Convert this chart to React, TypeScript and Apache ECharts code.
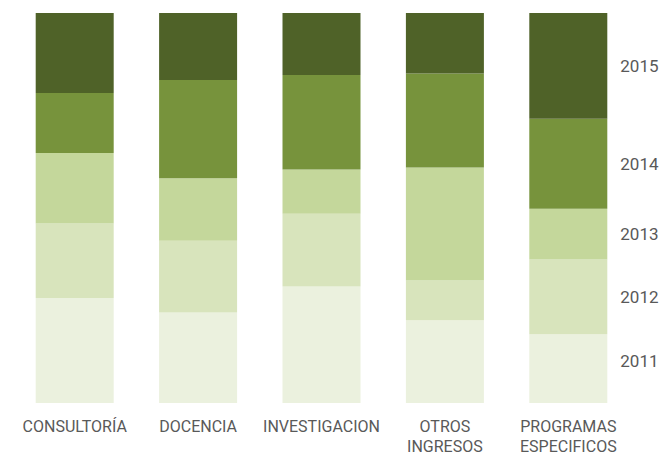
import React, { useEffect, useRef } from "react";
import * as echarts from "echarts";

const categories = ["CONSULTORÍA", "DOCENCIA", "INVESTIGACION", "OTROS INGRESOS", "PROGRAMAS ESPECIFICOS"];
const years = ["2011", "2012", "2013", "2014", "2015"];
const v2011 = [26.9, 23.2, 29.9, 21.2, 17.6];
const v2012 = [19.1, 18.4, 18.6, 10.2, 19.2];
const v2013 = [18.1, 16.0, 11.4, 29.0, 13.0];
const v2014 = [15.4, 25.2, 24.2, 24.1, 23.1];
const v2015 = [20.5, 17.2, 15.9, 15.5, 27.1];
const colors = ["#EBF1DE", "#D8E4BC", "#C4D79B", "#77933C", "#4F6228"];
const labelOffsets = [-8, 0, 0, 0, 0];

export default function App() {
  const ref = useRef<HTMLDivElement>(null);
  useEffect(() => {
    if (!ref.current) return;
    const chart = echarts.init(ref.current, null, { renderer: "svg" });
    const all = [v2011, v2012, v2013, v2014, v2015];
    const series = all.map((vals, si) => ({
      name: years[si],
      type: "bar",
      stack: "total",
      barWidth: 78,
      itemStyle: { color: colors[si] },
      data: vals.map((v, i) =>
        i === vals.length - 1
          ? {
              value: v,
              label: {
                show: true,
                position: "right",
                distance: 13,
                offset: [0, labelOffsets[si]],
                formatter: years[si],
                color: "#595959",
                fontSize: 17,
                fontFamily: "Roboto",
              },
            }
          : v
      ),
    }));
    chart.setOption({
      animation: false,
      backgroundColor: "#ffffff",
      grid: { left: 13, right: 41, top: 13, bottom: 54, outerBoundsMode: "none", containLabel: false },
      xAxis: {
        type: "category",
        data: categories,
        axisLine: { show: false },
        axisTick: { show: false },
        axisLabel: {
          interval: 0,
          margin: 13,
          color: "#595959",
          fontSize: 16,
          fontFamily: "Roboto",
          lineHeight: 20,
          formatter: (v: string) => v.replace(" ", "\n"),
        },
      },
      yAxis: {
        type: "value",
        min: 0,
        max: 100,
        show: false,
        splitLine: { show: false },
      },
      series,
    });
    return () => chart.dispose();
  }, []);
  return (
    <div
      ref={ref}
      style={{ position: "fixed", left: 0, top: 0, width: 671, height: 457, background: "#fff" }}
    />
  );
}
